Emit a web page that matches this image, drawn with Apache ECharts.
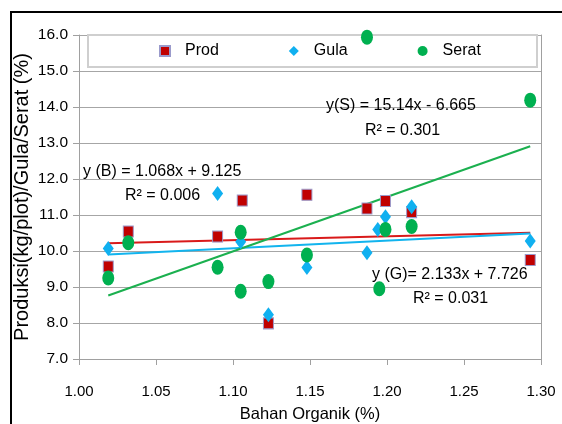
<!DOCTYPE html>
<html>
<head>
<meta charset="utf-8">
<script src="https://cdn.jsdelivr.net/npm/echarts@6/dist/echarts.min.js"></script>
<style>html,body{margin:0;padding:0;background:#fff}#c{width:562px;height:424px}</style>
</head>
<body>
<div id="c"></div>
<script>
// ---- data ----
const seriesNames = ['Prod', 'Gula', 'Serat'];
const prodX  = [1.019, 1.032, 1.090, 1.106, 1.123, 1.148, 1.187, 1.199, 1.216, 1.293];
const prodY  = [9.57, 10.54, 10.40, 11.40, 7.99, 11.56, 11.18, 11.39, 11.08, 9.75];
const gulaX  = [1.019, 1.090, 1.105, 1.123, 1.148, 1.187, 1.194, 1.199, 1.216, 1.293];
const gulaY  = [10.07, 11.60, 10.26, 8.23, 9.54, 9.95, 10.60, 10.95, 11.23, 10.28];
const seratX = [1.019, 1.032, 1.090, 1.105, 1.105, 1.123, 1.148, 1.187, 1.195, 1.199, 1.216, 1.293];
const seratY = [9.25, 10.23, 9.55, 10.52, 8.88, 9.15, 9.89, 15.94, 8.95, 10.60, 10.68, 14.19];
// trendline coefficients (slope, intercept) as printed on the chart
const trendProd  = [1.068, 9.125];
const trendGula  = [2.133, 7.726];
const trendSerat = [15.14, -6.665];
const trendRange = [1.019, 1.293];
const eqLabels = ['y (B) = 1.068x + 9.125', 'R² = 0.006',
                  'y (G)= 2.133x + 7.726', 'R² = 0.031',
                  'y(S) = 15.14x - 6.665', 'R² = 0.301'];
const xTitle = 'Bahan Organik (%)';
const yTitle = 'Produksi(kg/plot)/Gula/Serat (%)';

const FONT = "'Liberation Sans', Arial, sans-serif";
const zip = (xs, ys) => xs.map((x, i) => [x, ys[i]]);
const trend = (c) => trendRange.map(x => [x, c[0] * x + c[1]]);

const chart = echarts.init(document.getElementById('c'), null, {renderer: 'canvas'});
const txt = (text, opts) => Object.assign({
  type: 'text', silent: true, z: 50,
  style: Object.assign({text: text, font: '16px ' + FONT, fill: '#000'}, opts.style || {})
}, opts.pos);

chart.setOption({
  animation: false,
  backgroundColor: '#fff',
  grid: {left: 79, right: 21, top: 35, bottom: 65, outerBoundsMode: 'none', containLabel: false},
  xAxis: {
    type: 'value', min: 1.0, max: 1.3, interval: 0.05,
    name: xTitle, nameLocation: 'middle', nameGap: 47, nameMoveOverlap: false,
    nameTextStyle: {fontFamily: FONT, fontSize: 16.5, color: '#000'},
    axisLine: {show: true, lineStyle: {color: '#a0a0a0', width: 1}},
    axisTick: {show: true, length: 6, lineStyle: {color: '#a0a0a0'}},
    axisLabel: {margin: 25, fontFamily: FONT, fontSize: 15, color: '#000',
      formatter: v => v.toFixed(2)},
    splitLine: {show: false}
  },
  yAxis: [{
    type: 'value', min: 7, max: 16, interval: 1,
    name: yTitle, nameLocation: 'middle', nameGap: 47, nameRotate: 90, nameMoveOverlap: false,
    nameTextStyle: {fontFamily: FONT, fontSize: 20, color: '#000'},
    axisLine: {show: true, lineStyle: {color: '#a0a0a0', width: 1}},
    axisTick: {show: true, length: 6, lineStyle: {color: '#a0a0a0'}},
    axisLabel: {margin: 11, fontFamily: FONT, fontSize: 15.5, color: '#000',
      formatter: v => v.toFixed(1)},
    splitLine: {show: true, lineStyle: {color: '#a6a6a6', width: 1}}
  }, {
    type: 'value', min: 7, max: 16, interval: 1, position: 'right',
    axisLine: {show: true, lineStyle: {color: '#a0a0a0', width: 1}},
    axisTick: {show: false}, axisLabel: {show: false}, splitLine: {show: false}
  }],
  legend: {
    data: seriesNames, left: 159, top: 43, padding: 0,
    itemWidth: 10, itemHeight: 10, itemGap: 70,
    textStyle: {fontFamily: FONT, fontSize: 16, color: '#000', padding: [0, 0, 0, 10]}
  },
  graphic: [
    {type: 'rect', silent: true, z: 0, shape: {x: 11, y: 12, width: 620, height: 500},
     style: {fill: null, stroke: '#000', lineWidth: 2}},
    {type: 'rect', silent: true, z: 1, shape: {x: 88, y: 35, width: 449, height: 32},
     style: {fill: '#fff', stroke: '#cfcfcf', lineWidth: 2}},
    txt(eqLabels[0], {pos: {left: 83, top: 164}}),
    txt(eqLabels[1], {pos: {left: 125, top: 188}}),
    txt(eqLabels[2], {pos: {left: 372, top: 267}}),
    txt(eqLabels[3], {pos: {left: 413, top: 291}}),
    txt(eqLabels[4], {pos: {left: 326, top: 98}}),
    txt(eqLabels[5], {pos: {left: 365, top: 123}})
  ],
  series: [
    {name: 'Tren Prod', type: 'line', data: trend(trendProd), showSymbol: false, z: 2,
     lineStyle: {color: '#d91a1a', width: 2}, itemStyle: {color: '#d91a1a'}},
    {name: 'Tren Gula', type: 'line', data: trend(trendGula), showSymbol: false, z: 2,
     lineStyle: {color: '#12b4ee', width: 2}, itemStyle: {color: '#12b4ee'}},
    {name: 'Tren Serat', type: 'line', data: trend(trendSerat), showSymbol: false, z: 2,
     lineStyle: {color: '#1bb04f', width: 2}, itemStyle: {color: '#1bb04f'}},
    {name: 'Prod', type: 'scatter', data: zip(prodX, prodY), symbol: 'rect', symbolSize: [10, 11], z: 3,
     itemStyle: {color: '#c00000', borderColor: '#9a9acb', borderWidth: 1, opacity: 1}},
    {name: 'Gula', type: 'scatter', data: zip(gulaX, gulaY), symbol: 'diamond', symbolSize: [11, 15], z: 4,
     itemStyle: {color: '#10b0f0', opacity: 1}},
    {name: 'Serat', type: 'scatter', data: zip(seratX, seratY), symbol: 'circle', symbolSize: [12, 15], z: 5,
     itemStyle: {color: '#00b050', opacity: 1}}
  ]
});
</script>
</body>
</html>
